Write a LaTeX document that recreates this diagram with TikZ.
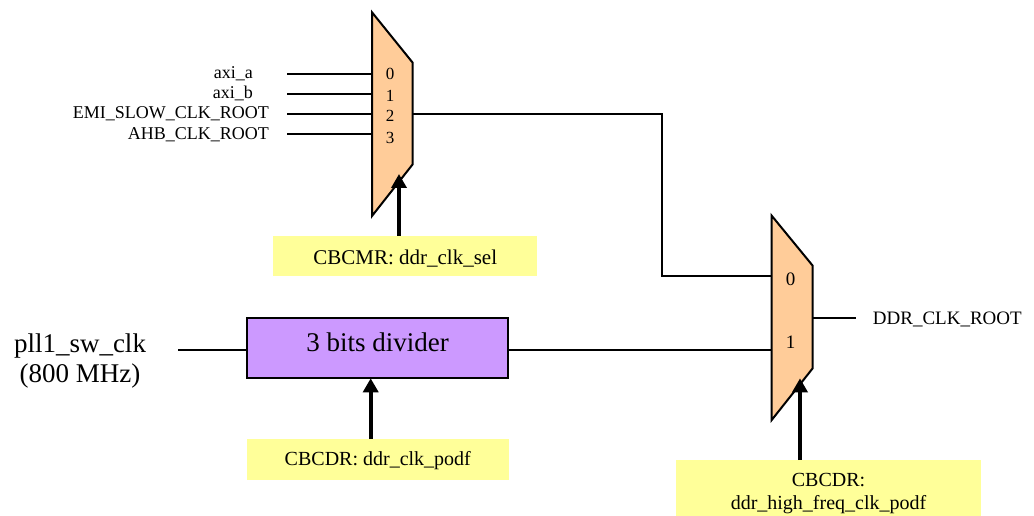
\documentclass[tikz,border=0pt]{standalone}
\usepackage{fontspec}
\setmainfont{Liberation Serif}
\usetikzlibrary{arrows.meta}

\definecolor{muxfill}{HTML}{FFCC99}
\definecolor{divfill}{HTML}{CC99FF}
\definecolor{regfill}{HTML}{FFFF99}

\newcommand{\fsz}[2]{\fontsize{#1}{#2}\selectfont}

\tikzset{
  mux/.style={draw=black, line width=2pt, fill=muxfill, line join=miter},
  wire/.style={draw=black, line width=2pt},
  sel/.style={draw=black, line width=3.6pt,
    -{Triangle[width=15pt,length=14pt]}},
  regbox/.style={fill=regfill, draw=none, inner sep=0pt},
  lbl/.style={inner sep=0pt, font=\fsz{18}{21}},
}

\begin{document}
\begin{tikzpicture}[x=1pt, y=-1pt]
\useasboundingbox (0,0) rectangle (1034,516);
\clip (0,0) rectangle (1034,516);

% --- first multiplexer (clock source select) ---
\draw[mux] (372,12.3) -- (412.7,62.7) -- (412.7,164.3) -- (372,216) -- cycle;
\coordinate (m1i0) at (372,74);
\coordinate (m1i1) at (372,94);
\coordinate (m1i2) at (372,114);
\coordinate (m1i3) at (372,134);
\coordinate (m1out) at (412.7,114);
\coordinate (m1sel) at (399,174);
\foreach \d/\y in {0/80,1/101.5,2/122,3/143.5}
  \node[inner sep=0pt, anchor=base, font=\fsz{17}{20}] (m1d\d) at (390,\y) {\d};

% input labels and their wires
\coordinate (s0) at (287.3,74);
\coordinate (s1) at (287.3,94);
\coordinate (s2) at (287.3,114);
\coordinate (s3) at (287.3,134);
\node[lbl, anchor=base east] (axia) at (253,79) {axi\_a};
\node[lbl, anchor=base east] (axib) at (253,99) {axi\_b};
\node[lbl, anchor=base east] (emi) at (269,119) {EMI\_SLOW\_CLK\_ROOT};
\node[lbl, anchor=base east] (ahb) at (269,139.5) {AHB\_CLK\_ROOT};
\draw[wire] (s0) -- (m1i0);
\draw[wire] (s1) -- (m1i1);
\draw[wire] (s2) -- (m1i2);
\draw[wire] (s3) -- (m1i3);

% select register for the first mux
\node[regbox, minimum width=263.7pt, minimum height=39.7pt,
      text height=17pt, text depth=0pt, font=\fsz{21}{24}]
      (cbcmr) at (405.2,255.8) {CBCMR: ddr\_clk\_sel};
\draw[sel] (cbcmr.north -| m1sel) -- (m1sel);

% --- second multiplexer (DDR root select) ---
\draw[mux] (771.7,215.7) -- (812.7,265.7) -- (812.7,368.3) -- (771.7,420) -- cycle;
\coordinate (m2i0) at (771.7,275.7);
\coordinate (m2i1) at (771.7,350);
\coordinate (m2out) at (812.7,317.7);
\coordinate (m2sel) at (800,378.3);
\node[inner sep=0pt, anchor=base, font=\fsz{19}{22}] (m2d0) at (790.7,285) {0};
\node[inner sep=0pt, anchor=base, font=\fsz{19}{22}] (m2d1) at (790.7,348.3) {1};

% first mux output routed to input 0 of the second mux
\draw[wire] (m1out) -- (661.7,114) -- (661.7,275.7) -- (m2i0);

% output
\coordinate (oend) at (856,317.7);
\draw[wire] (m2out) -- (oend);
\node[inner sep=0pt, anchor=base west, font=\fsz{19}{22}] (ddrroot) at (872.7,324) {DDR\_CLK\_ROOT};

% --- divider path ---
\node[inner sep=0pt, align=center, font=\fsz{27}{30}] (pll) at (80,361) {pll1\_sw\_clk\\(800 MHz)};
\coordinate (pllend) at (178.3,350);
\node[draw=black, line width=2pt, fill=divfill, inner sep=0pt,
      minimum width=261.6pt, minimum height=60.6pt,
      text height=18.4pt, text depth=11pt, font=\fsz{27}{30}]
      (div) at (377.5,348) {3 bits divider};
\coordinate (divsel) at (370.7,378.3);
\draw[wire] (pllend) -- (pllend -| div.west);
\draw[wire] (m2i1 -| div.east) -- (m2i1);

\node[regbox, minimum width=262.3pt, minimum height=40.7pt,
      text height=14pt, text depth=2pt, font=\fsz{20}{23}]
      (cbcdr) at (377.8,459.7) {CBCDR: ddr\_clk\_podf};
\draw[sel] (cbcdr.north -| divsel) -- (divsel);

% select register for the second mux
\node[regbox, anchor=north, minimum width=305pt, inner ysep=12.8pt,
      align=center, font=\fsz{20}{23}]
      (cbcdrhf) at (828.5,460) {CBCDR:\\ddr\_high\_freq\_clk\_podf};
\draw[sel] (cbcdrhf.north -| m2sel) -- (m2sel);
\end{tikzpicture}
\end{document}
